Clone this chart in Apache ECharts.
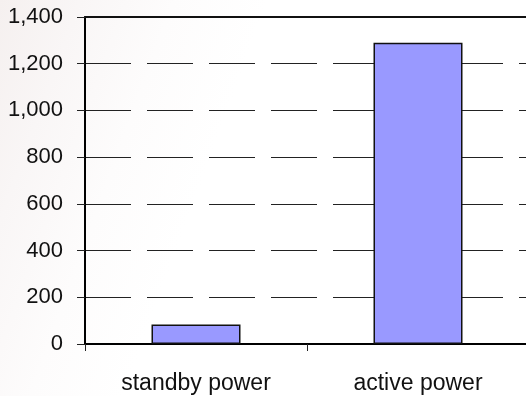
<!DOCTYPE html>
<html>
<head>
<meta charset="utf-8">
<script src="https://cdn.jsdelivr.net/npm/echarts@6/dist/echarts.min.js"></script>
<style>
  html, body { margin: 0; padding: 0; }
  #chart {
    width: 526px;
    height: 396px;
    background: linear-gradient(110deg, #f5f0ef 0%, #f9f6f6 12%, #fdfcfc 26%, #ffffff 40%);
  }
</style>
</head>
<body>
<div id="chart"></div>
<script>
// data
const categories = ['standby power', 'active power']
const powerValues = [84, 1290]
const yTicks = { min: 0, max: 1400, interval: 200 }

const chart = echarts.init(document.getElementById('chart'))

function withComma(v) {
  return String(v).replace(/\B(?=(\d{3})+(?!\d))/g, ',')
}

const fontFamily = 'Liberation Sans, Arial, sans-serif'

const option = {
  animation: false,
  grid: {
    left: 85,
    right: -3,
    top: 17,
    bottom: 52,
    outerBoundsMode: 'none'
  },
  xAxis: [{
    type: 'category',
    data: categories,
    axisLine: { lineStyle: { color: '#000', width: 2 } },
    axisTick: { show: true, length: 7, lineStyle: { color: '#222', width: 1 } },
    axisLabel: { margin: 28, color: '#111', fontSize: 23, fontFamily: fontFamily },
    splitLine: { show: false }
  }, {
    // top border of the plot
    type: 'category',
    position: 'top',
    data: categories,
    axisLine: { lineStyle: { color: '#111', width: 2 } },
    axisTick: { show: false },
    axisLabel: { show: false }
  }],
  yAxis: {
    type: 'value',
    min: yTicks.min,
    max: yTicks.max,
    interval: yTicks.interval,
    axisLine: { show: true, lineStyle: { color: '#000', width: 2 } },
    axisTick: { show: true, length: 8, lineStyle: { color: '#222', width: 1 } },
    axisLabel: { margin: 22, formatter: withComma, color: '#111', fontSize: 22, fontFamily: fontFamily },
    splitLine: {
      show: true,
      lineStyle: { color: '#222', width: 1, type: [46, 16] }
    }
  },
  series: [{
    type: 'bar',
    data: powerValues,
    barWidth: 89,
    itemStyle: {
      color: '#9999ff',
      borderColor: '#111',
      borderWidth: 1.5
    }
  }]
}

chart.setOption(option)
</script>
</body>
</html>
